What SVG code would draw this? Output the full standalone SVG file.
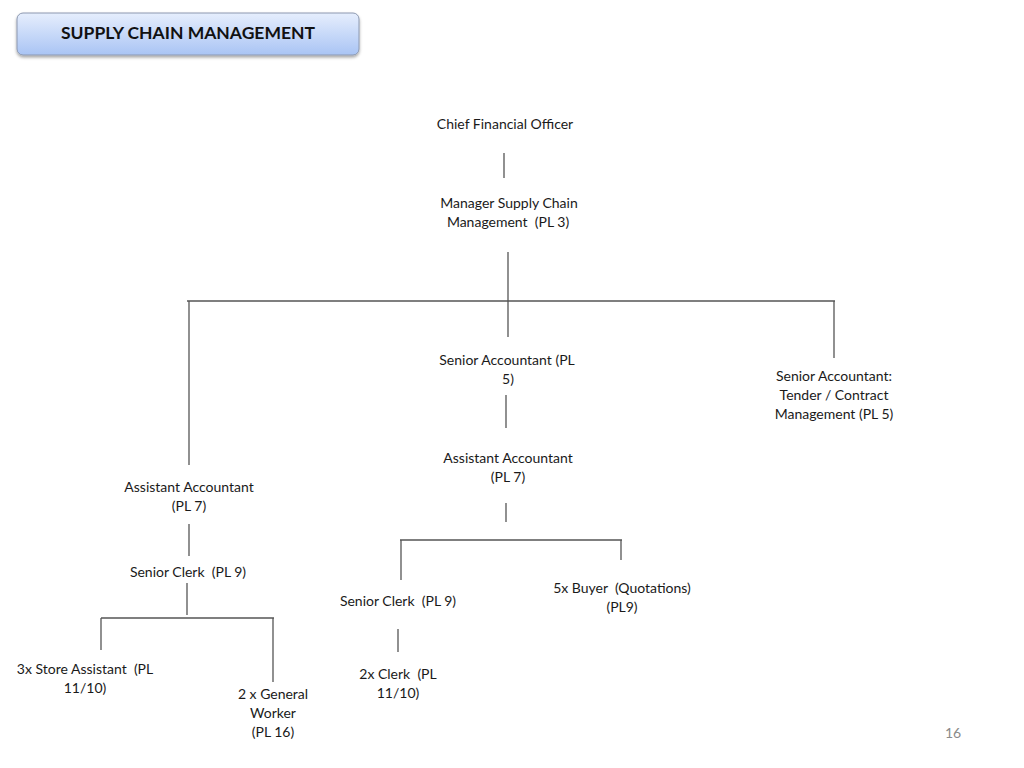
<svg xmlns="http://www.w3.org/2000/svg" width="1024" height="768" viewBox="0 0 1024 768">
<defs>
<linearGradient id="tg" x1="0" y1="0" x2="0" y2="1">
<stop offset="0" stop-color="#e6eefd"/>
<stop offset="1" stop-color="#a9c4f4"/>
</linearGradient>
<filter id="sh" x="-5%" y="-20%" width="110%" height="150%">
<feDropShadow dx="0" dy="2" stdDeviation="1.5" flood-color="#000" flood-opacity="0.35"/>
</filter>
<style>
text{font-family:Lato,"Open Sans","Liberation Sans",sans-serif;font-size:14px;fill:#1a1a1a;text-anchor:middle;white-space:pre}
.t{font-weight:bold;font-size:17.5px;fill:#111}
.pg{fill:#8a8a8a;font-size:14px}
#connectors line{stroke:#555;stroke-width:1.3}
</style>
</defs>
<rect width="1024" height="768" fill="#fff"/>
<g id="title">
<rect x="17" y="13" width="342" height="42" rx="6" fill="url(#tg)" stroke="#8c98b0" stroke-width="1" filter="url(#sh)"/>
<text class="t" x="188" y="39">SUPPLY CHAIN MANAGEMENT</text>
</g>
<g id="connectors">
<line x1="504" y1="153" x2="504" y2="178"/>
<line x1="508" y1="252" x2="508" y2="337"/>
<line x1="187" y1="301" x2="835" y2="301"/>
<line x1="189" y1="301" x2="189" y2="465"/>
<line x1="834" y1="301" x2="834" y2="358"/>
<line x1="506" y1="395" x2="506" y2="428"/>
<line x1="506" y1="503" x2="506" y2="522"/>
<line x1="400" y1="540" x2="622" y2="540"/>
<line x1="401" y1="540" x2="401" y2="580"/>
<line x1="621" y1="540" x2="621" y2="560"/>
<line x1="189" y1="524" x2="189" y2="556"/>
<line x1="187" y1="583" x2="187" y2="615"/>
<line x1="101" y1="618" x2="274" y2="618"/>
<line x1="101" y1="618" x2="101" y2="650"/>
<line x1="273" y1="618" x2="273" y2="682"/>
<line x1="398" y1="629" x2="398" y2="652"/>
</g>
<g id="cfo"><text x="505" y="129">Chief Financial Officer</text></g>
<g id="manager"><text x="509" y="208">Manager Supply Chain</text><text x="508" y="227">Management  (PL 3)</text></g>
<g id="senior-accountant"><text x="507" y="365">Senior Accountant (PL</text><text x="508" y="384">5)</text></g>
<g id="senior-accountant-tender"><text x="834" y="381">Senior Accountant:</text><text x="834" y="400">Tender / Contract</text><text x="834" y="419">Management (PL 5)</text></g>
<g id="assistant-accountant-mid"><text x="508" y="463">Assistant Accountant</text><text x="508" y="482">(PL 7)</text></g>
<g id="assistant-accountant-left"><text x="189" y="492">Assistant Accountant</text><text x="189" y="511">(PL 7)</text></g>
<g id="senior-clerk-left"><text x="188" y="577">Senior Clerk  (PL 9)</text></g>
<g id="senior-clerk-mid"><text x="398" y="606">Senior Clerk  (PL 9)</text></g>
<g id="buyer"><text x="622" y="593">5x Buyer  (Quotations)</text><text x="622" y="612">(PL9)</text></g>
<g id="store-assistant"><text x="85" y="674">3x Store Assistant  (PL</text><text x="85" y="693">11/10)</text></g>
<g id="general-worker"><text x="273" y="699">2 x General</text><text x="273" y="718">Worker</text><text x="273" y="737">(PL 16)</text></g>
<g id="clerk"><text x="398" y="679">2x Clerk  (PL</text><text x="398" y="698">11/10)</text></g>
<text class="pg" x="953" y="738">16</text>
</svg>
